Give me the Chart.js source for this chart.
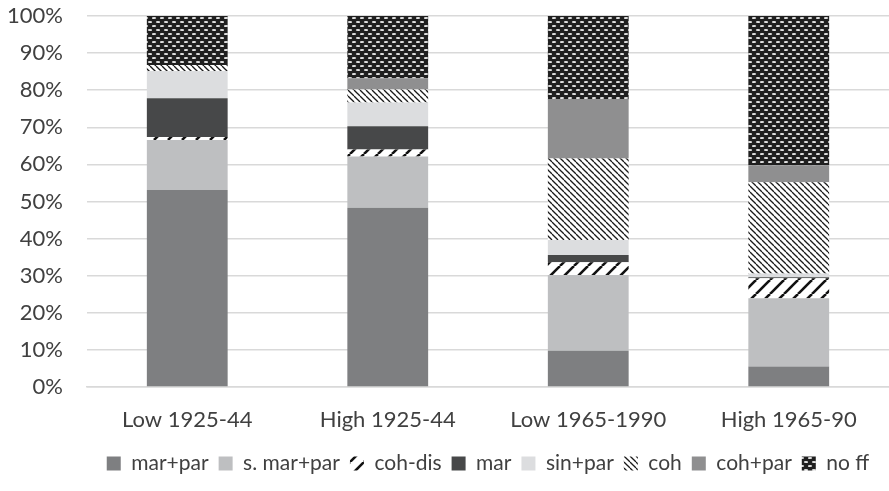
<!DOCTYPE html>
<html>
<head>
<meta charset="utf-8">
<script src="https://cdn.jsdelivr.net/npm/chart.js@4"></script>
<style>
  body { margin: 0; background: #fff; }
  #chart { display: block; }
</style>
</head>
<body>
<canvas id="chart" width="889" height="491"></canvas>
<script>
// categories and shares (%) per family type
const categories = ['Low 1925-44', 'High 1925-44', 'Low 1965-1990', 'High 1965-90'];
const marPar  = [53.1, 48.3, 9.8, 5.5];
const sMarPar = [13.5, 13.8, 20.4, 18.4];
const cohDis  = [0.8, 1.9, 3.4, 5.4];
const mar     = [10.4, 6.3, 2.0, 0.3];
const sinPar  = [7.4, 6.4, 4.0, 1.0];
const coh     = [1.6, 3.5, 22.0, 24.6];
const cohPar  = [0, 3.0, 15.9, 4.6];
const noFF    = [13.2, 16.8, 22.5, 40.2];
const yTicks  = [0, 10, 20, 30, 40, 50, 60, 70, 80, 90, 100];

const FONT = "Lato, 'Noto Sans', sans-serif";
const TEXT = '#404040';

// small tile patterns for the hatched series
function makeTile(size, draw) {
    const c = document.createElement('canvas');
    c.width = size;
    c.height = size;
    const g = c.getContext('2d');
    draw(g, size);
    return g.createPattern(c, 'repeat');
}

const slashPattern = makeTile(14, (g, s) => {
    g.fillStyle = '#fff';
    g.fillRect(0, 0, s, s);
    g.strokeStyle = '#111';
    g.lineWidth = 2.6;
    for (let k = -1; k <= 1; k++) {
        g.beginPath();
        g.moveTo(k * s, s);
        g.lineTo(k * s + s, 0);
        g.stroke();
    }
});

const backslashPattern = makeTile(6, (g, s) => {
    g.fillStyle = '#fff';
    g.fillRect(0, 0, s, s);
    g.strokeStyle = '#1a1a1a';
    g.lineWidth = 1.3;
    for (let k = -1; k <= 1; k++) {
        g.beginPath();
        g.moveTo(k * s, 0);
        g.lineTo(k * s + s, s);
        g.stroke();
    }
});

const dotPattern = makeTile(8, (g, s) => {
    g.fillStyle = '#1f1f1f';
    g.fillRect(0, 0, s, s);
    g.fillStyle = '#e6e6e6';
    [[2, 2], [6, 6]].forEach(([x, y]) => {
        g.beginPath();
        g.ellipse(x, y, 2.2, 1.1, 0, 0, Math.PI * 2);
        g.fill();
    });
});

function series(label, data, color) {
    return { label, data, backgroundColor: color, borderWidth: 0, barPercentage: 0.403, categoryPercentage: 1 };
}

// centre the legend under the plot area rather than the whole canvas
const legendUnderPlot = {
    id: 'legendUnderPlot',
    afterLayout(chart) {
        chart.legend.left = chart.chartArea.left;
        chart.legend.right = chart.chartArea.right;
    }
};

new Chart(document.getElementById('chart'), {
    type: 'bar',
    data: {
        labels: categories,
        datasets: [
            series('mar+par', marPar, '#7e7f81'),
            series('s. mar+par', sMarPar, '#bebfc1'),
            series('coh-dis', cohDis, slashPattern),
            series('mar', mar, '#474849'),
            series('sin+par', sinPar, '#dcdddf'),
            series('coh', coh, backslashPattern),
            series('coh+par', cohPar, '#8f8f90'),
            series('no ff', noFF, dotPattern)
        ]
    },
    plugins: [legendUnderPlot],
    options: {
        responsive: false,
        animation: false,
        layout: { padding: { top: 0, right: 0, bottom: 7, left: 0 } },
        plugins: {
            tooltip: { enabled: false },
            legend: {
                position: 'bottom',
                labels: {
                    boxWidth: 14,
                    boxHeight: 14,
                    padding: 10,
                    color: TEXT,
                    font: { family: FONT, size: 21 }
                }
            }
        },
        scales: {
            x: {
                stacked: true,
                afterFit: axis => { axis.height = 56; },
                grid: { display: false },
                border: { display: true, color: '#d9d9d9', width: 1.5 },
                ticks: { color: TEXT, padding: 12, font: { family: FONT, size: 22 } }
            },
            y: {
                stacked: true,
                min: 0,
                max: 100,
                afterFit: axis => {
                    axis.width = 87;
                    axis.paddingTop = 16;
                    axis.paddingBottom = 0;
                },
                afterBuildTicks: axis => { axis.ticks = yTicks.map(v => ({ value: v })); },
                grid: { color: '#d9d9d9', lineWidth: 1.5, drawTicks: false },
                border: { display: false },
                ticks: {
                    color: TEXT,
                    padding: 24,
                    font: { family: FONT, size: 22 },
                    callback: v => v + '%'
                }
            }
        }
    }
});
</script>
</body>
</html>
